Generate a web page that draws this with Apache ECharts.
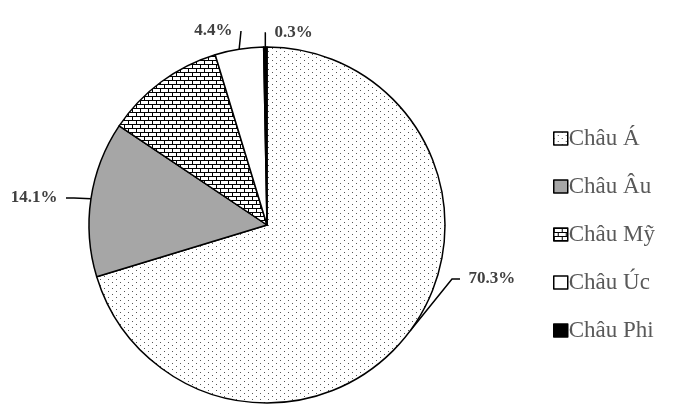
<!DOCTYPE html>
<html>
<head>
<meta charset="utf-8">
<script src="https://cdn.jsdelivr.net/npm/echarts@6/dist/echarts.min.js"></script>
<style>
  html, body { margin: 0; padding: 0; background: #fff; }
  #chart { width: 689px; height: 411px; }
</style>
</head>
<body>
<div id="chart"></div>
<script>
// dữ liệu
const regions = ['Châu Á', 'Châu Âu', 'Châu Mỹ', 'Châu Úc', 'Châu Phi'];
const shares = [70.3, 14.1, 10.9, 4.4, 0.3];
const showLabel = [true, true, false, true, true];

// vị trí nhãn (x, y, căn lề, khoảng trống)
const labelPos = [
  [460, 279, 'left', '  '],
  [66, 198, 'right', '  '],
  null,
  [241, 31, 'right', '  '],
  [266, 33, 'left', '  ']
];

// họa tiết chấm
function dotPattern() {
  const c = document.createElement('canvas');
  c.width = 8; c.height = 6;
  const g = c.getContext('2d');
  g.fillStyle = '#fff';
  g.fillRect(0, 0, 8, 6);
  g.fillStyle = '#555';
  g.fillRect(0, 0, 1, 1);
  g.fillRect(4, 3, 1, 1);
  return c;
}

// họa tiết gạch
function brickPattern() {
  const c = document.createElement('canvas');
  c.width = 8; c.height = 8;
  const g = c.getContext('2d');
  g.fillStyle = '#fff';
  g.fillRect(0, 0, 8, 8);
  g.fillStyle = '#000';
  g.fillRect(0, 0, 8, 1);
  g.fillRect(0, 4, 8, 1);
  g.fillRect(0, 0, 1, 4);
  g.fillRect(4, 4, 1, 4);
  return c;
}

const fills = [
  { image: dotPattern(), repeat: 'repeat' },
  '#a6a6a6',
  { image: brickPattern(), repeat: 'repeat' },
  '#ffffff',
  '#000000'
];

const chart = echarts.init(document.getElementById('chart'));
chart.setOption({
  animation: false,
  legend: {
    orient: 'vertical',
    left: 548,
    top: 122,
    itemGap: 25,
    itemWidth: 14,
    itemHeight: 13,
    icon: 'rect',
    itemStyle: { borderColor: '#000', borderWidth: 1.5 },
    textStyle: { fontFamily: 'Liberation Serif', fontSize: 23, color: '#595959', padding: [0, 0, 0, -4] },
    data: regions
  },
  series: [{
    type: 'pie',
    center: [267, 225],
    radius: 178,
    startAngle: 90,
    clockwise: true,
    itemStyle: { borderColor: '#000', borderWidth: 1.5 },
    label: {
      show: true,
      // khoảng trống giữa đường dẫn và chữ
      formatter: p => {
        const pos = labelPos[p.dataIndex];
        const txt = p.value + '%';
        if (!pos) return txt;
        return pos[2] === 'right' ? txt + pos[3] : pos[3] + txt;
      },
      fontFamily: 'Liberation Serif',
      fontWeight: 'bold',
      fontSize: 17,
      color: '#404040'
    },
    labelLine: {
      show: true,
      length: 12,
      length2: 8,
      lineStyle: { color: '#000', width: 1.5 }
    },
    labelLayout: p => {
      const pos = labelPos[p.dataIndex];
      if (!pos) return {};
      return { x: pos[0], y: pos[1], align: pos[2], verticalAlign: 'middle' };
    },
    emphasis: { disabled: true },
    data: regions.map((name, i) => ({
      name: name,
      value: shares[i],
      itemStyle: { color: fills[i] },
      label: { show: showLabel[i] },
      labelLine: { show: showLabel[i] }
    }))
  }]
});
</script>
</body>
</html>
